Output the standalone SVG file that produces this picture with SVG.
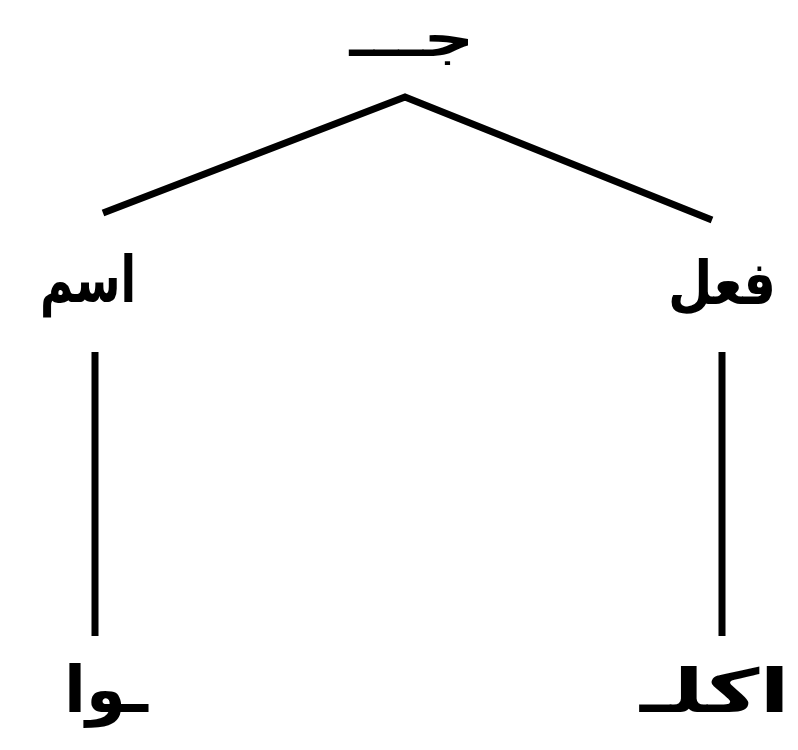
<svg xmlns="http://www.w3.org/2000/svg" width="798" height="750" viewBox="0 0 798 750">
<style>
.t{font-family:"DejaVu Sans","Noto Sans",sans-serif;font-weight:bold;font-size:64px;fill:#000;text-anchor:middle;direction:rtl}
.c{stroke:#000;stroke-width:7;fill:none;stroke-linecap:butt;stroke-linejoin:miter}
</style>
<rect width="798" height="750" fill="#fff"/>
<g id="connectors">
<polyline class="c" points="103,213 405,97 712,220"/>
<line class="c" x1="95" y1="352" x2="95" y2="636"/>
<line class="c" x1="722" y1="352" x2="722" y2="636"/>
</g>
<g id="root"><text class="t" x="412" y="56" style="font-size:52px" textLength="125" lengthAdjust="spacingAndGlyphs">جـــ</text></g>
<g id="ism"><text class="t" x="88" y="302" textLength="96" lengthAdjust="spacingAndGlyphs">اسم</text></g>
<g id="fil"><text class="t" x="722" y="304" style="font-size:60px" textLength="108" lengthAdjust="spacingAndGlyphs">فعل</text></g>
<g id="hawa"><text class="t" x="106" y="712" textLength="84" lengthAdjust="spacingAndGlyphs">ـوا</text></g>
<g id="akal"><text class="t" x="715" y="712" style="font-size:60px" textLength="150" lengthAdjust="spacingAndGlyphs">اكلـ</text></g>
</svg>
